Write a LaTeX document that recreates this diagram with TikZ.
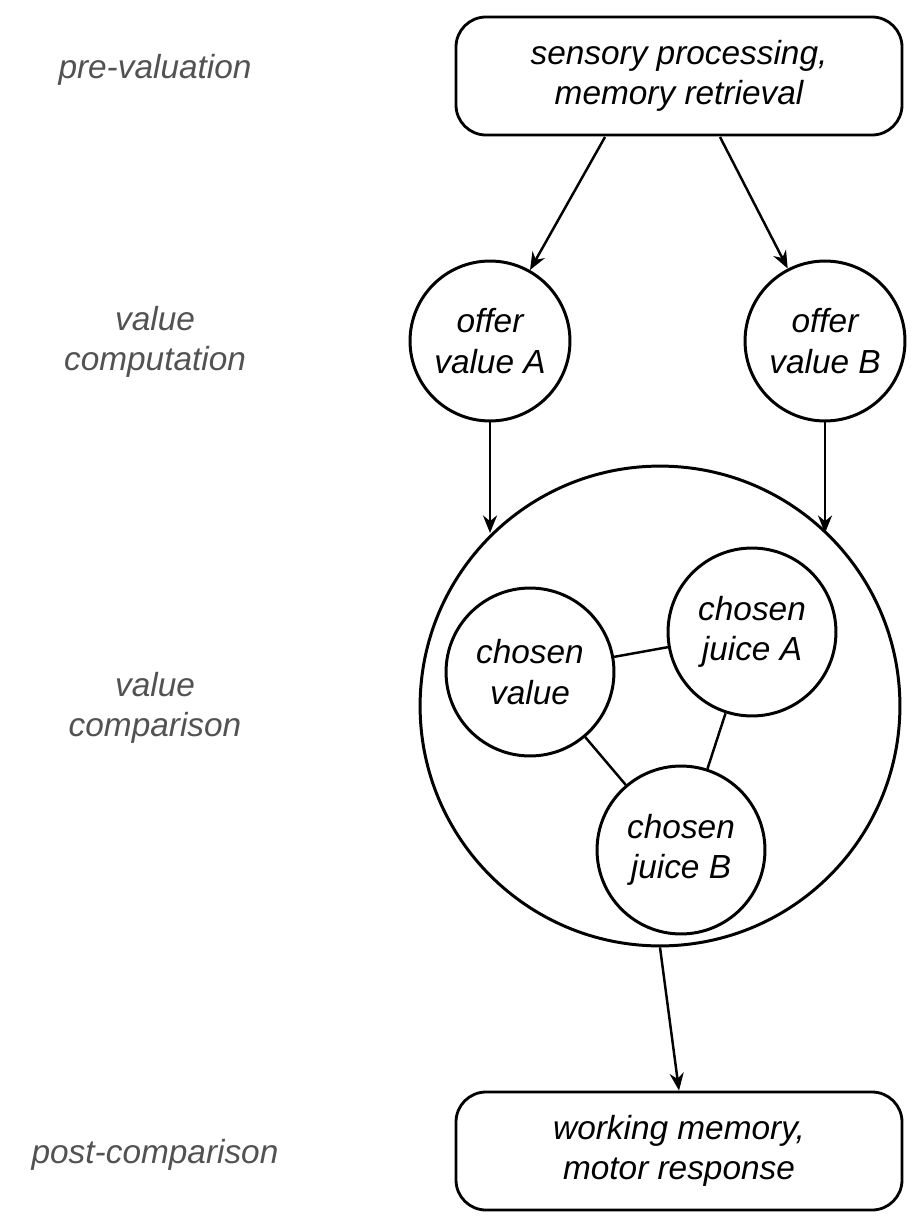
\documentclass[tikz,border=0pt]{standalone}
\usepackage{fontspec}
\setmainfont{Liberation Sans}
\usetikzlibrary{arrows.meta}
\begin{document}
\begin{tikzpicture}[x=0.02cm,y=-0.02cm,
  txt/.style={font=\fontsize{19pt}{23pt}\selectfont\itshape,align=center},
  lab/.style={txt,text=black!68},
  box/.style={txt,draw,line width=1.6pt,rounded corners=0.6cm,minimum width=446*0.02cm,minimum height=118*0.02cm,inner sep=0pt},
  circ/.style={txt,draw,circle,line width=1.7pt,minimum size=#1*0.04cm,inner sep=0pt},
  arr/.style={line width=1.4pt,-{Stealth[length=10pt,width=8pt]}},
  ln/.style={line width=1.4pt}]
\useasboundingbox (0,0) rectangle (914,1226);
\node[lab] (l1) at (155,70) {pre-valuation};
\node[lab] (l2) at (155,342) {value\\computation};
\node[lab] (l3) at (155,708) {value\\comparison};
\node[lab] (l4) at (155,1155) {post-comparison};
\node[box] (top) at (679,76) {sensory processing,\\memory retrieval};
\node[box] (bot) at (679,1151) {working memory,\\motor response};
\node[circ=80] (A) at (490,341) {offer\\value A};
\node[circ=80] (B) at (825,341) {offer\\value B};
\node[circ=240,draw] (big) at (660,706) {};
\node[circ=84] (cv) at (530,672) {chosen\\value};
\node[circ=84] (ja) at (752,632) {chosen\\juice A};
\node[circ=84] (jb) at (681,850) {chosen\\juice B};
\coordinate (t1) at (605,137);
\coordinate (t2) at (720,137);
\coordinate (bA) at (490,533);
\coordinate (bB) at (825,533);
\draw[arr] (t1) -- (A);
\draw[arr] (t2) -- (B);
\draw[arr] (A.south) -- (bA);
\draw[arr] (B.south) -- (bB);
\draw[arr] (big.south) -- (bot.north);
\draw[ln] (cv) -- (ja);
\draw[ln] (cv) -- (jb);
\draw[ln] (ja) -- (jb);
\end{tikzpicture}
\end{document}
